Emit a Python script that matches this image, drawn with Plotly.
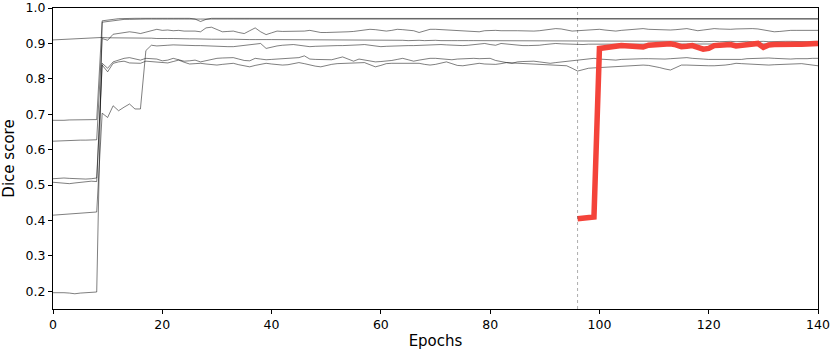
import plotly.graph_objects as go

epochs = list(range(0, 141))

run_a = [0.910, 0.911, 0.912, 0.912, 0.913, 0.914, 0.915, 0.916, 0.917, 0.917,
         0.916, 0.916, 0.917, 0.916, 0.916, 0.915, 0.916, 0.915, 0.915, 0.914,
         0.915, 0.914, 0.914, 0.913, 0.914, 0.913, 0.913, 0.912, 0.913, 0.912,
         0.912, 0.913, 0.912, 0.912, 0.911, 0.912, 0.911, 0.911, 0.912, 0.911,
         0.911, 0.911, 0.911, 0.910, 0.911, 0.911, 0.910, 0.910, 0.911, 0.910,
         0.910, 0.910, 0.910, 0.909, 0.910, 0.910, 0.909, 0.910, 0.909, 0.909,
         0.909, 0.910, 0.909, 0.909, 0.909, 0.908, 0.909, 0.909, 0.908, 0.909,
         0.909, 0.908, 0.909, 0.908, 0.908, 0.909, 0.908, 0.908, 0.908, 0.908,
         0.908, 0.908, 0.907, 0.908, 0.908, 0.907, 0.908, 0.907, 0.907, 0.908,
         0.907, 0.907, 0.908, 0.907, 0.907, 0.907, 0.906, 0.907, 0.907, 0.907,
         0.907, 0.906, 0.907, 0.907, 0.906, 0.907, 0.906, 0.906, 0.907, 0.906,
         0.906, 0.907, 0.906, 0.906, 0.906, 0.907, 0.906, 0.906, 0.906, 0.905,
         0.906, 0.906, 0.905, 0.906, 0.906, 0.905, 0.906, 0.906, 0.905, 0.906,
         0.906, 0.905, 0.906, 0.905, 0.906, 0.906, 0.905, 0.906, 0.905, 0.906,
         0.906]

run_b = [0.683, 0.682, 0.683, 0.684, 0.684, 0.683, 0.684, 0.684, 0.685, 0.964,
         0.965, 0.968, 0.970, 0.971, 0.970, 0.971, 0.971, 0.970, 0.971, 0.971,
         0.972, 0.971, 0.971, 0.970, 0.971, 0.971, 0.969, 0.962, 0.968, 0.971,
         0.971, 0.972, 0.971, 0.971, 0.972, 0.971, 0.971, 0.972, 0.971, 0.971,
         0.972, 0.971, 0.972, 0.971, 0.971, 0.972, 0.971, 0.972, 0.971, 0.971,
         0.972, 0.971, 0.971, 0.972, 0.971, 0.971, 0.972, 0.971, 0.971, 0.972,
         0.971, 0.971, 0.972, 0.971, 0.971, 0.971, 0.972, 0.971, 0.971, 0.972,
         0.971, 0.971, 0.971, 0.972, 0.971, 0.971, 0.971, 0.972, 0.971, 0.971,
         0.971, 0.971, 0.972, 0.971, 0.971, 0.971, 0.971, 0.972, 0.971, 0.971,
         0.971, 0.971, 0.971, 0.971, 0.972, 0.971, 0.971, 0.971, 0.971, 0.971,
         0.971, 0.971, 0.970, 0.971, 0.971, 0.971, 0.971, 0.970, 0.971, 0.971,
         0.971, 0.970, 0.971, 0.971, 0.971, 0.970, 0.971, 0.971, 0.970, 0.971,
         0.971, 0.970, 0.971, 0.970, 0.971, 0.971, 0.970, 0.971, 0.970, 0.970,
         0.971, 0.970, 0.970, 0.971, 0.970, 0.970, 0.970, 0.971, 0.970, 0.970,
         0.970]

run_c = [0.624, 0.625, 0.625, 0.626, 0.626, 0.627, 0.627, 0.628, 0.628, 0.914,
         0.909, 0.926, 0.928, 0.930, 0.933, 0.931, 0.928, 0.932, 0.935, 0.940,
         0.937, 0.938, 0.936, 0.937, 0.935, 0.936, 0.935, 0.933, 0.944, 0.946,
         0.940, 0.933, 0.934, 0.935, 0.931, 0.928, 0.936, 0.944, 0.933, 0.925,
         0.930, 0.935, 0.934, 0.934, 0.933, 0.933, 0.935, 0.937, 0.934, 0.931,
         0.931, 0.931, 0.931, 0.932, 0.933, 0.934, 0.936, 0.938, 0.940, 0.939,
         0.936, 0.935, 0.937, 0.940, 0.939, 0.937, 0.936, 0.931, 0.935, 0.940,
         0.940, 0.939, 0.938, 0.937, 0.937, 0.936, 0.935, 0.934, 0.933, 0.936,
         0.937, 0.937, 0.936, 0.937, 0.936, 0.936, 0.935, 0.935, 0.935, 0.936,
         0.938, 0.940, 0.942, 0.941, 0.938, 0.935, 0.936, 0.937, 0.938, 0.939,
         0.940, 0.938, 0.936, 0.935, 0.937, 0.938, 0.939, 0.941, 0.942, 0.940,
         0.939, 0.938, 0.937, 0.938, 0.939, 0.941, 0.942, 0.939, 0.936, 0.938,
         0.940, 0.942, 0.941, 0.940, 0.940, 0.941, 0.942, 0.941, 0.942, 0.941,
         0.938, 0.935, 0.933, 0.934, 0.936, 0.937, 0.937, 0.937, 0.938, 0.937,
         0.937]

run_d = [0.518, 0.520, 0.520, 0.519, 0.518, 0.517, 0.517, 0.518, 0.520, 0.844,
         0.830, 0.848, 0.853, 0.858, 0.860, 0.856, 0.853, 0.858, 0.857, 0.856,
         0.851, 0.853, 0.858, 0.854, 0.850, 0.851, 0.853, 0.848, 0.852, 0.855,
         0.858, 0.859, 0.860, 0.860, 0.856, 0.852, 0.851, 0.858, 0.856, 0.854,
         0.855, 0.856, 0.857, 0.858, 0.859, 0.860, 0.865, 0.856, 0.855, 0.855,
         0.854, 0.854, 0.858, 0.862, 0.856, 0.850, 0.856, 0.854, 0.850, 0.848,
         0.849, 0.850, 0.852, 0.855, 0.858, 0.854, 0.850, 0.853, 0.856, 0.858,
         0.858, 0.856, 0.855, 0.854, 0.856, 0.857, 0.858, 0.858, 0.857, 0.858,
         0.858, 0.852, 0.848, 0.846, 0.844, 0.848, 0.849, 0.850, 0.850, 0.848,
         0.846, 0.844, 0.846, 0.848, 0.850, 0.852, 0.853, 0.855, 0.857, 0.858,
         0.856, 0.855, 0.854, 0.853, 0.855, 0.856, 0.857, 0.858, 0.857, 0.857,
         0.856, 0.856, 0.856, 0.857, 0.858, 0.859, 0.860, 0.858, 0.856, 0.856,
         0.855, 0.855, 0.854, 0.854, 0.853, 0.854, 0.855, 0.857, 0.858, 0.859,
         0.860, 0.859, 0.858, 0.857, 0.856, 0.856, 0.857, 0.856, 0.857, 0.858,
         0.858]

run_e = [0.508, 0.507, 0.506, 0.504, 0.506, 0.508, 0.510, 0.511, 0.510, 0.839,
         0.820, 0.844, 0.848, 0.850, 0.845, 0.844, 0.844, 0.850, 0.849, 0.848,
         0.847, 0.845, 0.849, 0.853, 0.847, 0.842, 0.843, 0.844, 0.842, 0.841,
         0.839, 0.841, 0.843, 0.844, 0.840, 0.837, 0.834, 0.838, 0.842, 0.844,
         0.842, 0.840, 0.839, 0.840, 0.843, 0.846, 0.843, 0.839, 0.836, 0.834,
         0.838, 0.841, 0.843, 0.844, 0.845, 0.846, 0.846, 0.846, 0.840, 0.834,
         0.838, 0.843, 0.844, 0.844, 0.844, 0.845, 0.846, 0.844, 0.841, 0.839,
         0.841, 0.844, 0.848, 0.843, 0.838, 0.837, 0.840, 0.843, 0.844, 0.842,
         0.841, 0.841, 0.843, 0.846, 0.845, 0.844, 0.843, 0.842, 0.841, 0.840,
         0.840, 0.839, 0.839, 0.838, 0.837, 0.830, 0.822, 0.826, 0.830, 0.831,
         0.832, 0.833, 0.834, 0.834, 0.835, 0.836, 0.837, 0.838, 0.839, 0.838,
         0.836, 0.832, 0.828, 0.825, 0.832, 0.839, 0.839, 0.838, 0.838, 0.837,
         0.837, 0.837, 0.837, 0.839, 0.841, 0.844, 0.843, 0.842, 0.841, 0.840,
         0.839, 0.839, 0.840, 0.841, 0.842, 0.843, 0.844, 0.843, 0.841, 0.838,
         0.837]

run_f = [0.415, 0.416, 0.417, 0.418, 0.419, 0.420, 0.421, 0.422, 0.424, 0.703,
         0.691, 0.724, 0.710, 0.720, 0.729, 0.715, 0.715, 0.880, 0.895, 0.893,
         0.893, 0.895, 0.896, 0.895, 0.894, 0.893, 0.894, 0.894, 0.893, 0.892,
         0.892, 0.891, 0.891, 0.891, 0.893, 0.895, 0.897, 0.898, 0.900, 0.886,
         0.890, 0.893, 0.895, 0.896, 0.897, 0.895, 0.893, 0.891, 0.892, 0.893,
         0.893, 0.894, 0.894, 0.894, 0.894, 0.895, 0.896, 0.897, 0.895, 0.893,
         0.891, 0.892, 0.893, 0.894, 0.894, 0.894, 0.894, 0.895, 0.896, 0.896,
         0.897, 0.897, 0.896, 0.895, 0.895, 0.894, 0.895, 0.897, 0.899, 0.900,
         0.897, 0.895, 0.900, 0.898, 0.896, 0.895, 0.894, 0.894, 0.894, 0.895,
         0.897, 0.899, 0.900, 0.899, 0.898, 0.897, 0.896, 0.897, 0.898, 0.898,
         0.899, 0.899, 0.898, 0.898, 0.899, 0.900, 0.899, 0.898, 0.899, 0.900,
         0.900, 0.899, 0.899, 0.898, 0.899, 0.900, 0.900, 0.899, 0.898, 0.899,
         0.899, 0.898, 0.898, 0.899, 0.900, 0.900, 0.899, 0.898, 0.899, 0.899,
         0.900, 0.899, 0.898, 0.899, 0.899, 0.900, 0.900, 0.899, 0.899, 0.899,
         0.899]

run_g = [0.196, 0.197, 0.196, 0.195, 0.193, 0.195, 0.196, 0.197, 0.198, 0.960,
         0.962, 0.965, 0.967, 0.968, 0.968, 0.969, 0.968, 0.969, 0.969, 0.968,
         0.969, 0.969, 0.968, 0.969, 0.969, 0.968, 0.969, 0.969, 0.968, 0.969,
         0.969, 0.970, 0.969, 0.969, 0.970, 0.969, 0.969, 0.969, 0.970, 0.969,
         0.969, 0.970, 0.969, 0.969, 0.969, 0.970, 0.969, 0.969, 0.970, 0.969,
         0.969, 0.969, 0.970, 0.969, 0.969, 0.970, 0.969, 0.969, 0.969, 0.970,
         0.969, 0.969, 0.970, 0.969, 0.969, 0.969, 0.970, 0.969, 0.969, 0.970,
         0.969, 0.969, 0.969, 0.970, 0.969, 0.969, 0.970, 0.969, 0.969, 0.969,
         0.970, 0.969, 0.969, 0.970, 0.969, 0.969, 0.969, 0.970, 0.969, 0.969,
         0.970, 0.969, 0.969, 0.969, 0.970, 0.969, 0.969, 0.970, 0.969, 0.969,
         0.969, 0.970, 0.969, 0.969, 0.970, 0.969, 0.969, 0.969, 0.970, 0.969,
         0.969, 0.970, 0.969, 0.969, 0.969, 0.970, 0.969, 0.969, 0.970, 0.969,
         0.969, 0.969, 0.970, 0.969, 0.969, 0.970, 0.969, 0.969, 0.969, 0.970,
         0.969, 0.969, 0.970, 0.969, 0.969, 0.969, 0.970, 0.969, 0.969, 0.969,
         0.969]

# the highlighted run only starts at epoch 96
new_epochs = list(range(96, 141))
new_run = [0.405, 0.407, 0.406, 0.410, 0.886, 0.887, 0.888, 0.892, 0.894, 0.893,
           0.892, 0.891, 0.890, 0.895, 0.896, 0.897, 0.898, 0.899, 0.896, 0.891,
           0.892, 0.894, 0.889, 0.884, 0.886, 0.894, 0.895, 0.896, 0.897, 0.893,
           0.894, 0.896, 0.898, 0.900, 0.889, 0.896, 0.897, 0.898, 0.896, 0.897,
           0.898, 0.898, 0.899, 0.900, 0.900]

start_epoch = 96
y_ticks = [0.2, 0.3, 0.4, 0.5, 0.6, 0.7, 0.8, 0.9, 1.0]

old_runs = [run_a, run_b, run_c, run_d, run_e, run_f, run_g]

fig = go.Figure()

for run in old_runs:
    fig.add_trace(go.Scatter(x=epochs, y=run, mode='lines',
                             line=dict(color='rgba(0,0,0,0.72)', width=0.7),
                             showlegend=False))

fig.add_trace(go.Scatter(x=new_epochs, y=new_run, mode='lines',
                         line=dict(color='#f4433a', width=5.5),
                         showlegend=False))

fig.add_vline(x=start_epoch, line_dash='dot', line_width=0.6, line_color='rgba(0,0,0,0.55)')

axis_style = dict(showgrid=False, zeroline=False, showline=True, mirror=True,
                  linecolor='black', linewidth=1, ticks='outside', ticklen=4,
                  tickcolor='black', tickfont=dict(size=12.5, color='black'),
                  ticklabeloverflow='allow', automargin=False)

fig.update_xaxes(range=[0, 140], dtick=20, title_text='Epochs',
                 title_font=dict(size=15, color='black'), title_standoff=4, **axis_style)
fig.update_yaxes(range=[0.15, 1.0002], tickvals=y_ticks, ticktext=[f'{v:.1f}' for v in y_ticks],
                 title_text='Dice score',
                 title_font=dict(size=15, color='black'), title_standoff=8, **axis_style)

fig.update_layout(width=831, height=354, plot_bgcolor='white', paper_bgcolor='white',
                  font=dict(family='DejaVu Sans'),
                  margin=dict(l=53, r=13, t=8, b=45))

# drop the page's default body margin so the figure sits at the window corner
fig.write_html('out.html', config={'displayModeBar': False},
               post_script="document.body.style.margin='0';document.body.style.overflow='hidden';")
